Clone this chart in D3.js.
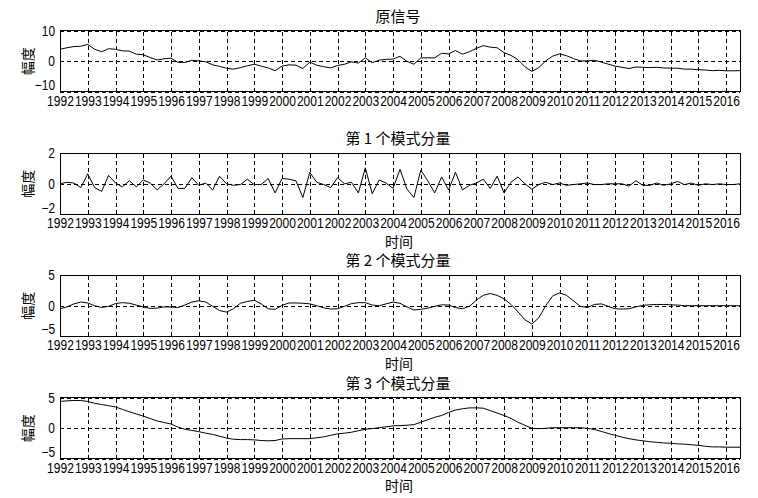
<!DOCTYPE html>
<html>
<head>
<meta charset="utf-8">
<script src="https://cdn.jsdelivr.net/npm/d3@7"></script>
<style>
  html, body { margin: 0; padding: 0; background: #fff; }
  svg { display: block; }
</style>
</head>
<body>
<script>
// ---------------- data (quarterly samples, 1992 Q1 .. 2016 Q3) ----------------
const startYear = 1992;
const stepYear = 0.25;
const tickYears = [1992, 1993, 1994, 1995, 1996, 1997, 1998, 1999, 2000, 2001, 2002, 2003,
  2004, 2005, 2006, 2007, 2008, 2009, 2010, 2011, 2012, 2013, 2014, 2015, 2016];

const titles = ["原信号", "第 1 个模式分量", "第 2 个模式分量", "第 3 个模式分量"];
const yLabel = "幅度";
const xLabel = "时间";
const yLimits = [[-10, 10], [-2, 2], [-5, 5], [-5, 5]];
const yTickValues = [[-10, 0, 10], [-2, 0, 2], [-5, 0, 5], [-5, 0, 5]];

const originalSignal = [
  3.9, 4.4, 4.8, 4.9, 5.5, 3.9, 3.1, 4.1, 3.9, 3.4,
  3.3, 2.3, 2.1, 1.2, 0.4, 0.8, 1.0, -0.4, -0.4, 0.3,
  0.1, -0.2, -1.2, -1.7, -2.3, -2.6, -2.1, -1.5, -1.0, -1.6,
  -2.2, -3.1, -1.6, -1.2, -1.3, -2.4, -0.3, -1.3, -1.8, -2.2,
  -1.4, -1.0, -0.2, -0.6, 1.1, -0.5, 0.35, 0.6, 0.7, 1.6,
  -0.05, -1.0, 1.1, 1.1, 1.1, 2.6, 2.4, 3.5, 2.3, 3.1,
  4.2, 5.1, 4.6, 4.4, 2.8, 1.9, 0.5, -1.8, -3.35, -2.1,
  0.1, 1.65, 2.4, 1.8, 0.85, 0.1, 0.1, 0.3, -0.3, -0.95,
  -1.6, -2.0, -2.4, -1.9, -2.0, -2.1, -2.0, -2.2, -2.3, -2.3,
  -2.6, -2.6, -2.8, -2.9, -3.1, -3.0, -3.15, -3.15, -3.1
];

const mode1 = [
  0.0, 0.1, 0.05, -0.25, 0.65, -0.25, -0.5, 0.55, 0.05, -0.2,
  0.2, -0.2, 0.25, 0.05, -0.4, 0.0, 0.5, -0.3, -0.3, 0.4,
  -0.1, 0.05, -0.4, 0.5, 0.0, -0.1, -0.05, 0.3, -0.05, -0.05,
  0.35, -0.6, 0.35, 0.3, 0.2, -0.9, 0.75, 0.1, -0.05, -0.25,
  0.4, 0.0, 0.1, -0.6, 1.05, -0.65, 0.25, 0.05, -0.3, 0.95,
  -0.35, -0.9, 0.9, 0.2, -0.6, 0.45, -0.4, 0.75, -0.4, -0.1,
  0.05, 0.3, -0.3, 0.5, -0.6, 0.1, 0.45, 0.0, -0.35, -0.05,
  0.1, -0.05, 0.05, -0.1, -0.05, 0.0, 0.05, -0.05, -0.05, 0.0,
  0.0, 0.0, -0.15, 0.2, -0.1, -0.1, 0.05, -0.1, 0.0, 0.15,
  -0.05, 0.05, -0.1, 0.0, -0.05, 0.0, -0.05, -0.05, 0.0
];

const mode2 = [
  -0.5, -0.2, 0.3, 0.6, 0.45, 0.0, -0.3, -0.1, 0.35, 0.5,
  0.4, 0.1, -0.2, -0.45, -0.4, -0.2, -0.2, -0.3, 0.1, 0.6,
  0.8, 0.6, -0.1, -0.8, -1.05, -0.5, 0.4, 0.7, 0.9, 0.3,
  -0.5, -0.6, 0.05, 0.45, 0.45, 0.4, 0.3, 0.0, -0.35, -0.55,
  -0.5, -0.1, 0.35, 0.5, 0.5, 0.1, 0.0, 0.3, 0.6, 0.4,
  -0.2, -0.7, -0.6, -0.4, -0.1, 0.15, 0.1, -0.3, -0.5, -0.1,
  0.9, 1.7, 2.0, 1.7, 1.1, 0.2, -1.0, -2.3, -3.0, -2.0,
  0.0, 1.6, 2.1, 1.7, 0.8, -0.1, -0.3, 0.2, 0.3, -0.1,
  -0.5, -0.55, -0.5, -0.2, 0.05, 0.15, 0.2, 0.2, 0.15, 0.1,
  0, 0, 0, 0, 0, 0, 0, 0, 0
];

const mode3 = [
  4.4, 4.5, 4.55, 4.55, 4.4, 4.1, 3.9, 3.7, 3.5, 3.1,
  2.7, 2.35, 2.0, 1.6, 1.2, 0.95, 0.7, 0.2, -0.15, -0.35,
  -0.55, -0.8, -1.0, -1.3, -1.6, -1.8, -1.85, -1.85, -1.9, -2.0,
  -2.05, -2.0, -1.75, -1.7, -1.7, -1.7, -1.7, -1.55, -1.4, -1.15,
  -0.9, -0.8, -0.65, -0.4, -0.15, -0.05, 0.1, 0.25, 0.4, 0.45,
  0.5, 0.6, 1.0, 1.4, 1.8, 2.1, 2.6, 3.0, 3.2, 3.35,
  3.35, 3.3, 2.9, 2.5, 2.1, 1.6, 1.0, 0.5, 0.0, -0.05,
  0.0, 0.1, 0.1, 0.1, 0.1, 0.1, 0.0, -0.2, -0.5, -0.85,
  -1.15, -1.45, -1.7, -1.9, -2.05, -2.2, -2.3, -2.4, -2.45, -2.55,
  -2.6, -2.7, -2.8, -2.95, -3.05, -3.05, -3.1, -3.1, -3.1
];

const seriesList = [originalSignal, mode1, mode2, mode3];

// ---------------- layout ----------------
const W = 758, H = 498;
const left = 60, right = 740;
const tops = [30.7, 153.3, 275.2, 397.8];
const ph = 61;
const showXLabel = [false, true, true, true];
const latinFont = "'Liberation Sans', Arial, Helvetica, sans-serif";
const cjkFont = "'Noto Sans CJK SC', 'Noto Sans', sans-serif";

const svg = d3.select("body").append("svg")
  .attr("width", W).attr("height", H)
  .attr("viewBox", `0 0 ${W} ${H}`);
svg.append("rect").attr("width", W).attr("height", H).attr("fill", "#fff");

const x = d3.scaleLinear().domain([startYear, 2016.5]).range([left, right]);

seriesList.forEach((values, k) => {
  const top = tops[k], bottom = top + ph;
  const y = d3.scaleLinear().domain(yLimits[k]).range([bottom, top]);
  const g = svg.append("g");

  // vertical dashed grid
  const gx = g.append("g").attr("transform", `translate(0,${bottom})`)
    .call(d3.axisBottom(x).tickValues(tickYears).tickSize(-ph).tickFormat(""));
  gx.select(".domain").remove();
  gx.selectAll(".tick line")
    .attr("stroke", "#000").attr("stroke-width", 1)
    .attr("stroke-dasharray", "4,3").attr("shape-rendering", "crispEdges");

  // horizontal dashed grid
  const gy = g.append("g").attr("transform", `translate(${left},0)`)
    .call(d3.axisLeft(y).tickValues(yTickValues[k]).tickSize(-(right - left)).tickFormat(""));
  gy.select(".domain").remove();
  gy.selectAll(".tick line")
    .attr("stroke", "#000").attr("stroke-width", 1)
    .attr("stroke-dasharray", "4,3").attr("shape-rendering", "crispEdges");

  // data line
  const line = d3.line()
    .x((d, i) => x(startYear + i * stepYear))
    .y(d => y(d));
  g.append("path").datum(values)
    .attr("fill", "none").attr("stroke", "#000").attr("stroke-width", 1)
    .attr("d", line);

  // box
  g.append("rect")
    .attr("x", left).attr("y", top).attr("width", right - left).attr("height", ph)
    .attr("fill", "none").attr("stroke", "#000").attr("stroke-width", 1)
    .attr("shape-rendering", "crispEdges");

  // x tick labels (horizontally condensed like the reference)
  const xl = g.append("g").attr("transform", `translate(0,${bottom})`)
    .call(d3.axisBottom(x).tickValues(tickYears).tickSize(0).tickPadding(3.6).tickFormat(d3.format("d")));
  xl.select(".domain").remove();
  xl.selectAll("text")
    .attr("font-family", latinFont).attr("font-size", 14.5).attr("fill", "#000")
    .attr("transform", "scale(0.83,1)");

  // y tick labels
  const yl = g.append("g").attr("transform", `translate(${left},0)`)
    .call(d3.axisLeft(y).tickValues(yTickValues[k]).tickSize(0).tickPadding(0).tickFormat(d3.format("d")));
  yl.select(".domain").remove();
  yl.selectAll("text")
    .attr("x", 0)
    .attr("font-family", latinFont).attr("font-size", 14).attr("fill", "#000")
    .attr("dy", d => d < 0 ? "-0.16em" : "0.32em")
    .attr("transform", "translate(-5,0) scale(0.85,1)");

  // title
  g.append("text")
    .attr("x", (left + right) / 2 - 2).attr("y", top - 15.5)
    .attr("text-anchor", "middle").attr("dominant-baseline", "central")
    .attr("font-family", cjkFont).attr("font-size", 15).attr("fill", "#000")
    .text(titles[k]);

  // y label
  g.append("text")
    .attr("transform", `translate(26.5,${(top + bottom) / 2}) rotate(-90)`)
    .attr("text-anchor", "middle").attr("dominant-baseline", "central")
    .attr("font-family", cjkFont).attr("font-size", 14).attr("fill", "#000")
    .text(yLabel);

  // x label
  if (showXLabel[k]) {
    g.append("text")
      .attr("x", 399).attr("y", bottom + 26.5)
      .attr("text-anchor", "middle").attr("dominant-baseline", "central")
      .attr("font-family", cjkFont).attr("font-size", 14).attr("fill", "#000")
      .text(xLabel);
  }
});
</script>
</body>
</html>
